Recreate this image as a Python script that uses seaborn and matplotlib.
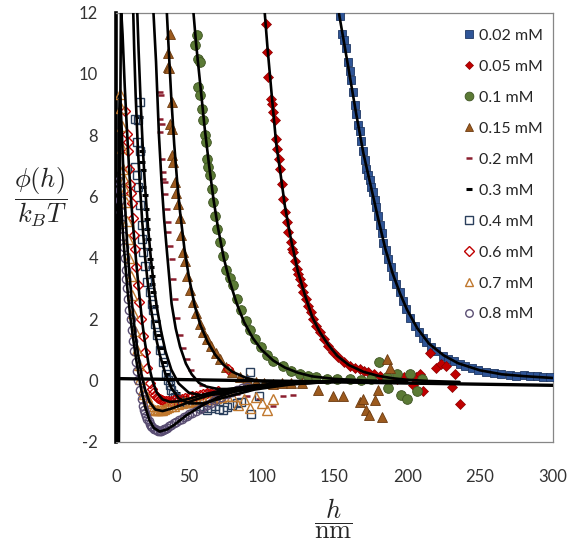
import numpy as np
import pandas as pd
import matplotlib
matplotlib.use("Agg")
import matplotlib.pyplot as plt
import seaborn as sns

# ---------------- data ----------------
h_002 = [153.7, 155.5, 156.5, 158.0, 159.5, 160.6, 161.5, 162.7, 164.0, 165.2, 166.3, 167.5, 168.6, 169.7, 170.9, 172.0,
         173.2, 174.3, 175.5, 176.6, 177.8, 178.9, 180.0, 181.2, 182.4, 183.5, 185.2, 186.9, 188.6, 190.3, 192.6, 195.0,
         197.2, 199.5, 202.3, 205.2, 208.0, 211.0, 213.2, 216.5, 220.0, 224.6, 228.0, 232.0, 236.0, 240.0, 244.5, 249.0,
         254.4, 259.5, 264.5, 270.4, 275.0, 280.0, 284.2, 289.0, 293.5, 297.9]
p_002 = [11.9, 11.3, 11.1, 10.85, 10.4, 10.1, 9.8, 9.4, 9.0, 8.7, 8.35, 8.15, 7.8, 7.5, 7.2, 6.9,
         6.7, 6.55, 6.3, 6.15, 5.9, 5.65, 5.35, 5.06, 4.8, 4.5, 4.25, 3.96, 3.7, 3.42, 3.15, 2.88,
         2.6, 2.33, 2.05, 1.79, 1.58, 1.38, 1.24, 1.08, 0.95, 0.81, 0.71, 0.62, 0.55, 0.48, 0.41, 0.34,
         0.28, 0.24, 0.2, 0.17, 0.16, 0.17, 0.16, 0.14, 0.12, 0.1]

h_005 = [103.0, 103.4, 104.5, 106.2, 107.5, 108.0, 109.1, 109.8, 110.7, 112.1, 113.0, 113.7, 114.8, 116.0, 117.2, 118.3,
         119.9, 121.0, 121.7, 123.0, 124.0, 125.2, 126.3, 127.5, 128.6, 130.3, 132.0, 133.7, 135.4, 137.7, 140.0, 142.8,
         145.7, 149.0, 152.6, 156.5, 160.6, 164.0, 167.5, 170.5, 173.2, 177.0, 181.2, 186.0, 192.7, 198.0, 204.0, 206.4,
         208.6, 210.7, 215.5, 220.1, 223.5, 227.0, 230.6, 232.7, 236.0]
p_005 = [11.64, 10.72, 9.9, 9.19, 9.03, 8.76, 8.49, 7.89, 7.56, 7.23, 6.9, 6.42, 5.92, 5.49, 5.16, 4.84,
         4.51, 4.3, 4.18, 3.9, 3.64, 3.48, 3.31, 3.1, 2.88, 2.66, 2.44, 2.22, 2.0, 1.78, 1.57, 1.35,
         1.13, 0.93, 0.75, 0.6, 0.48, 0.42, 0.37, 0.3, 0.26, 0.2, 0.15, 0.1, 0.04, 0.12, -0.16, 0.1,
         0.21, -0.36, 0.89, 0.42, 0.53, 0.48, -0.23, 0.21, -0.78]

h_01 = [54.2, 55.4, 56.5, 57.7, 56.5, 57.7, 58.8, 59.9, 61.1, 61.8, 62.2, 63.4, 64.5, 65.7, 66.8, 67.9, 69.5, 71.4,
        73.2, 75.5, 78.0, 80.3, 83.0, 86.0, 89.0, 92.0, 95.5, 99.5, 103.4, 108.0, 114.8, 120.0, 126.3, 132.0, 137.7,
        145.0, 152.0, 160.6, 168.0, 175.0, 181.0, 186.0, 187.0, 193.0, 196.0, 200.0, 202.0, 207.0, 210.0]
p_01 = [10.94, 11.26, 10.5, 10.4, 9.58, 9.3, 8.87, 8.49, 8.0, 7.78, 7.23, 6.95, 6.69, 6.25, 5.82, 5.38, 4.94, 4.51,
        4.07, 3.6, 3.35, 3.1, 2.65, 2.3, 1.95, 1.63, 1.35, 1.1, 0.82, 0.62, 0.48, 0.3, 0.21, 0.14, 0.1,
        0.05, 0.03, 0.04, 0.0, 0.05, 0.59, 0.1, -0.26, 0.2, -0.46, -0.62, 0.2, -0.36, 0.03]

h_015 = [37.0, 35.7, 35.9, 36.5, 37.1, 38.2, 38.2, 38.2, 39.3, 40.5, 41.5, 42.5, 43.9, 44.8, 46.0, 47.4, 49.0, 50.8,
         52.9, 55.0, 57.5, 60.0, 62.5, 65.5, 68.5, 71.4, 75.5, 80.0, 85.0, 90.0, 96.0, 102.0, 108.0, 114.0, 120.0,
         128.0, 138.6, 149.0, 156.0, 167.5, 169.5, 172.0, 174.0, 178.0, 180.0, 183.0, 186.0, 188.0]
p_015 = [11.3, 10.7, 10.23, 10.2, 8.38, 9.08, 8.21, 7.34, 7.12, 6.47, 6.1, 5.75, 5.3, 4.75, 4.2, 3.9, 3.4, 2.95,
         2.55, 2.2, 1.85, 1.58, 1.34, 1.12, 0.9, 0.69, 0.45, 0.26, 0.12, 0.05, -0.05, -0.1, -0.12, -0.1, -0.08,
         -0.1, -0.3, -0.5, -0.5, -0.7, -0.62, -0.95, -1.14, -0.65, -0.3, -1.2, 0.69, 0.42]

h_02 = [30.2, 31.0, 30.2, 31.3, 30.2, 31.3, 32.4, 32.4, 33.6, 33.6, 34.8, 35.9, 35.9, 37.1, 38.2, 39.3, 40.5,
        42.0, 44.0, 46.0, 48.7, 51.5, 55.6, 59.0, 63.0, 67.0, 72.0, 77.0, 83.0, 90.0, 98.0, 107.8, 115.0, 121.5]
p_02 = [9.41, 9.3, 8.54, 8.38, 8.1, 7.23, 6.8, 6.58, 6.47, 6.09, 5.6, 5.16, 4.84, 4.4, 3.96, 3.31, 2.66,
        2.05, 1.47, 1.05, 0.69, 0.35, 0.03, -0.15, -0.3, -0.35, -0.4, -0.38, -0.45, -0.5, -0.6, -0.82, -0.5, -0.46]

h_03 = [16.5, 17.6, 17.6, 18.5, 18.8, 19.9, 20.5, 21.1, 21.6, 22.2, 22.8, 23.3, 23.9, 24.5, 25.0, 25.6, 26.8, 28.0,
        29.5, 31.0, 33.0, 35.0, 38.0, 42.0, 47.0, 53.0, 60.0, 68.0]
p_03 = [8.6, 7.5, 7.12, 6.86, 6.3, 6.05, 5.6, 5.27, 4.95, 4.62, 4.3, 3.96, 3.7, 3.42, 3.15, 2.88, 2.44, 1.95,
        1.47, 1.05, 0.59, 0.2, -0.15, -0.4, -0.55, -0.6, -0.55, -0.5]

h_04 = [16.5, 13.0, 15.3, 14.2, 16.5, 13.0, 14.3, 15.3, 16.5, 17.6, 17.7, 18.7, 19.9, 21.1, 23.3, 24.5, 25.6, 27.0,
        28.0, 30.0, 32.3, 34.5, 37.0, 39.5, 42.0, 45.0, 50.0, 55.0, 58.0, 62.5, 68.0, 73.4, 80.0, 86.0, 92.0, 93.0, 98.0,
        35.5, 38.0, 40.5, 43.5, 47.5, 52.5, 60.0, 65.0, 70.5, 76.5, 83.0]
p_04 = [9.08, 8.54, 8.5, 7.78, 7.5, 6.96, 6.7, 6.31, 5.71, 5.06, 4.6, 4.18, 3.75, 3.2, 2.88, 2.5, 2.3, 1.85,
        1.47, 1.0, 0.59, 0.2, -0.16, -0.45, -0.62, -0.7, -0.75, -0.75, -0.85, -0.95, -0.85, -0.95, -0.8, -0.7, 0.26, -1.1, -0.5,
        0.0, -0.3, -0.55, -0.66, -0.72, -0.75, -0.9, -0.9, -0.92, -0.88, -0.75]

h_06 = [6.2, 7.3, 8.5, 8.5, 9.0, 9.6, 10.3, 10.8, 11.9, 12.5, 13.0, 14.0, 15.0, 16.0, 17.2, 18.5, 20.0, 21.5,
        23.3, 25.5, 28.0, 30.0, 33.0, 36.0, 40.0, 45.0, 50.0, 55.0, 60.0, 65.0, 70.0, 77.0,
        24.5, 26.5, 29.0, 31.5, 34.5, 37.5, 42.5, 47.5, 52.5, 57.5, 62.5, 67.5]
p_06 = [8.8, 8.05, 7.78, 7.5, 6.9, 6.4, 6.1, 5.8, 5.3, 4.75, 4.3, 3.7, 3.1, 2.55, 2.0, 1.45, 0.92, 0.4,
        -0.1, -0.4, -0.55, -0.62, -0.66, -0.68, -0.65, -0.6, -0.55, -0.5, -0.45, -0.4, -0.35, 0.36,
        -0.28, -0.48, -0.58, -0.64, -0.67, -0.67, -0.63, -0.58, -0.52, -0.47, -0.42, -0.37]

h_07 = [2.7, 3.2, 3.8, 4.4, 5.0, 5.6, 6.2, 6.8, 7.5, 8.4, 9.2, 10.0, 11.0, 12.0, 13.2, 14.3, 15.5, 16.5, 18.5, 21.0,
        23.0, 25.6, 28.0, 30.0, 33.0, 36.0, 40.0, 45.0, 50.0, 55.0, 60.0, 66.0, 72.0, 80.0, 84.0, 88.0, 92.0, 96.0,
        100.0, 104.0, 108.0,
        19.5, 22.0, 24.3, 26.8, 29.0, 31.5, 34.5, 38.0, 42.5, 47.5, 52.5, 57.5, 63.0, 69.0, 76.0]
p_07 = [9.36, 8.9, 8.3, 7.6, 6.9, 6.58, 6.2, 5.82, 5.2, 4.6, 4.0, 3.4, 2.8, 2.2, 1.6, 1.0, 0.5, 0.05, -0.3, -0.55,
        -0.75, -0.92, -0.98, -0.97, -0.93, -0.88, -0.82, -0.75, -0.7, -0.65, -0.62, -0.6, -0.55, -0.5, -0.8, -0.6, -0.9, -0.55,
        -0.75, -0.95, -0.6,
        -0.43, -0.66, -0.85, -0.95, -0.98, -0.96, -0.9, -0.85, -0.78, -0.72, -0.68, -0.63, -0.61, -0.57, -0.52]

h_08 = [2.0, 2.5, 3.0, 3.6, 4.2, 4.8, 5.4, 6.0, 6.6, 7.2, 7.8, 8.5, 9.2, 10.0, 10.8, 11.6, 12.5, 13.4, 14.3, 15.3,
        16.5, 17.6, 18.8, 20.0, 21.5, 23.3, 25.0, 27.0, 29.0, 31.0, 33.0, 35.0, 38.0, 41.5, 45.0, 48.5, 52.0, 57.7,
        62.5, 68.0, 76.0, 83.0, 90.0,
        19.4, 20.7, 22.4, 24.1, 26.0, 28.0, 30.0, 32.0, 34.0, 36.5, 39.7, 43.2, 46.7, 50.2, 54.8, 60.0, 65.0, 72.0,
        79.5, 86.5]
p_08 = [6.5, 6.2, 5.9, 5.5, 5.1, 4.7, 4.35, 4.0, 3.6, 3.3, 3.0, 2.65, 2.3, 2.0, 1.65, 1.3, 0.95, 0.6, 0.3, 0.0,
        -0.3, -0.6, -0.85, -1.05, -1.25, -1.42, -1.53, -1.6, -1.65, -1.64, -1.6, -1.55, -1.45, -1.35, -1.25, -1.15, -1.05, -0.94,
        -0.8, -0.65, -0.45, -0.3, -0.2,
        -0.95, -1.15, -1.34, -1.48, -1.57, -1.63, -1.65, -1.62, -1.58, -1.5, -1.4, -1.3, -1.2, -1.1, -1.0, -0.87, -0.73, -0.55,
        -0.38, -0.25]

# fitted model curves (black lines)
fh_002 = [152.0, 156.0, 160.0, 165.0, 170.0, 175.0, 180.0, 185.0, 190.0, 195.0, 200.0, 207.0, 215.0, 225.0, 235.0,
          250.0, 265.0, 280.0, 300.0]
fp_002 = [12.3, 11.2, 10.1, 8.7, 7.4, 6.35, 5.3, 4.3, 3.5, 2.85, 2.3, 1.7, 1.2, 0.82, 0.56, 0.33, 0.2, 0.14, 0.08]
fh_005 = [101.5, 104.0, 107.0, 110.0, 113.0, 116.0, 120.0, 125.0, 130.0, 135.0, 140.0, 146.0, 152.0, 160.0, 170.0,
          180.0, 190.0, 200.0, 215.0, 236.0]
fp_005 = [12.4, 10.9, 9.3, 7.75, 6.75, 5.7, 4.65, 3.55, 2.75, 2.05, 1.58, 1.15, 0.8, 0.5, 0.28,
          0.15, 0.07, 0.02, -0.02, -0.05]
fh_01 = [52.5, 55.0, 58.0, 61.0, 64.0, 67.0, 70.0, 74.0, 78.0, 83.0, 88.0, 94.0, 100.0, 108.0, 116.0, 125.0, 135.0,
         150.0, 170.0, 200.0]
fp_01 = [12.4, 11.0, 9.6, 8.2, 7.0, 5.9, 5.0, 4.0, 3.25, 2.5, 1.9, 1.38, 1.0, 0.65, 0.42, 0.25, 0.13,
         0.05, 0.0, -0.03]
fh_015 = [34.5, 36.0, 38.0, 40.0, 42.0, 44.0, 47.0, 50.0, 54.0, 58.0, 63.0, 68.0, 74.0, 80.0, 90.0, 100.0, 115.0, 135.0, 160.0]
fp_015 = [12.4, 11.0, 9.2, 7.7, 6.5, 5.5, 4.3, 3.4, 2.45, 1.8, 1.25, 0.85, 0.5, 0.28, 0.07, -0.03, -0.06, -0.05, -0.02]
fh_02 = [25.3, 27.5, 29.5, 31.3, 33.0, 35.0, 38.2, 41.0, 44.0, 48.0, 52.0, 57.0, 62.0, 70.0, 80.0, 95.0, 115.0, 140.0, 165.0]
fp_02 = [12.4, 10.4, 8.0, 6.47, 5.3, 4.2, 2.5, 1.7, 1.1, 0.55, 0.2, -0.08, -0.2, -0.28, -0.28, -0.22, -0.13, -0.06, -0.02]
fh_03 = [14.4, 15.5, 17.0, 18.5, 20.0, 22.0, 24.0, 26.0, 28.0, 31.0, 34.0, 38.0, 43.0, 50.0, 60.0, 75.0, 95.0, 120.0, 150.0]
fp_03 = [12.3, 10.8, 9.0, 7.5, 6.3, 5.0, 3.95, 3.1, 2.4, 1.6, 0.95, 0.35, -0.1, -0.4, -0.5, -0.42, -0.26, -0.12, -0.04]
fh_04 = [11.7, 12.5, 13.5, 15.0, 16.5, 18.0, 20.0, 22.0, 24.0, 27.0, 30.0, 34.0, 38.0, 43.0, 50.0, 60.0, 75.0, 95.0, 120.0, 150.0]
fp_04 = [12.3, 10.8, 9.3, 7.6, 6.3, 5.2, 4.0, 3.1, 2.35, 1.5, 0.85, 0.2, -0.25, -0.58, -0.75, -0.75, -0.55, -0.3, -0.13, -0.04]
fh_06 = [2.0, 2.6, 3.4, 4.5, 6.0, 7.5, 9.0, 10.5, 12.0, 14.0, 16.0, 18.0, 20.0, 22.5, 25.0, 28.0, 32.0, 37.0, 43.0,
         50.0, 60.0, 75.0, 95.0, 120.0, 150.0]
fp_06 = [-2.0, 6.0, 12.2, 11.3, 9.6, 8.2, 6.9, 5.8, 4.9, 3.8, 2.8, 1.9, 1.2, 0.5, 0.0, -0.4, -0.62, -0.7, -0.68,
         -0.6, -0.46, -0.3, -0.16, -0.07, -0.02]
fh_07 = [1.2, 1.6, 2.0, 2.5, 3.0, 4.0, 5.0, 6.0, 7.5, 9.0, 11.0, 13.0, 15.0, 17.5, 20.0, 23.0, 27.0, 32.0, 38.0, 45.0,
         55.0, 70.0, 90.0, 120.0, 150.0]
fp_07 = [-2.0, 4.0, 8.0, 9.3, 9.2, 8.1, 6.9, 5.9, 4.6, 3.6, 2.5, 1.6, 0.9, 0.2, -0.3, -0.7, -0.95, -1.0, -0.92, -0.8,
         -0.62, -0.4, -0.22, -0.08, -0.02]
fh_08 = [1.0, 1.3, 1.6, 2.0, 2.6, 3.5, 4.5, 6.0, 8.0, 10.0, 12.0, 14.0, 16.0, 18.0, 20.0, 23.0, 26.0, 30.0, 35.0, 40.0,
         48.0, 58.0, 70.0, 85.0, 100.0, 120.0, 150.0]
fp_08 = [-2.0, 2.5, 5.5, 6.8, 6.6, 5.8, 5.0, 4.0, 2.9, 2.0, 1.3, 0.65, 0.05, -0.45, -0.85, -1.3, -1.55, -1.67, -1.6, -1.45,
         -1.15, -0.85, -0.55, -0.3, -0.17, -0.07, -0.02]
fh_base = [0.0, 300.0]
fp_base = [0.06, -0.16]

x_ticks = [0, 50, 100, 150, 200, 250, 300]
y_ticks = [-2, 0, 2, 4, 6, 8, 10, 12]

# ---------------- style ----------------
sns.set_theme(style="white")
plt.rcParams["font.family"] = ["Lato", "DejaVu Sans"]
plt.rcParams["mathtext.fontset"] = "cm"

fig = plt.figure(figsize=(5.68, 5.46), dpi=100)
ax = fig.add_axes([116 / 568, 1 - 441.7 / 546, 436.7 / 568, 429 / 546])

series = [
    ("0.02 mM", h_002, p_002, dict(marker="s", markersize=6.0, markerfacecolor="#2F5597", markeredgecolor="#1F3864", markeredgewidth=0.6)),
    ("0.05 mM", h_005, p_005, dict(marker="D", markersize=4.6, markerfacecolor="#C00000", markeredgecolor="#8B0000", markeredgewidth=0.5)),
    ("0.1 mM", h_01, p_01, dict(marker="o", markersize=7.0, markerfacecolor="#5B7A35", markeredgecolor="#3E5322", markeredgewidth=0.6)),
    ("0.15 mM", h_015, p_015, dict(marker="^", markersize=6.5, markerfacecolor="#9C5A1E", markeredgecolor="#6B3A10", markeredgewidth=0.6)),
    ("0.2 mM", h_02, p_02, dict(marker="_", markersize=4.2, markeredgewidth=1.8, markeredgecolor="#8B1E2E", color="#8B1E2E")),
    ("0.3 mM", h_03, p_03, dict(marker="_", markersize=5.0, markeredgewidth=2.2, markeredgecolor="#000000", color="#000000")),
    ("0.4 mM", h_04, p_04, dict(marker="s", markersize=6.0, markerfacecolor="none", markeredgecolor="#2A3F5C", markeredgewidth=1.0)),
    ("0.6 mM", h_06, p_06, dict(marker="D", markersize=5.5, markerfacecolor="none", markeredgecolor="#C00000", markeredgewidth=1.0)),
    ("0.7 mM", h_07, p_07, dict(marker="^", markersize=6.5, markerfacecolor="none", markeredgecolor="#C0782E", markeredgewidth=1.0)),
    ("0.8 mM", h_08, p_08, dict(marker="o", markersize=6.0, markerfacecolor="none", markeredgecolor="#5A4E73", markeredgewidth=1.0)),
]

for label, hx, py, kw in series:
    df = pd.DataFrame({"h": hx, "phi": py})
    sns.lineplot(data=df, x="h", y="phi", ax=ax, estimator=None, sort=False,
                 linestyle="", label=label, zorder=3, **kw)

fits = [(fh_002, fp_002), (fh_005, fp_005), (fh_01, fp_01), (fh_015, fp_015), (fh_02, fp_02),
        (fh_03, fp_03), (fh_04, fp_04), (fh_06, fp_06), (fh_07, fp_07), (fh_08, fp_08)]
for fx, fy in fits:
    dff = pd.DataFrame({"h": fx, "phi": fy})
    sns.lineplot(data=dff, x="h", y="phi", ax=ax, estimator=None, sort=False,
                 color="black", linewidth=1.9, zorder=4, legend=False)
sns.lineplot(data=pd.DataFrame({"h": fh_base, "phi": fp_base}), x="h", y="phi", ax=ax,
             estimator=None, sort=False, color="black", linewidth=2.4, zorder=4, legend=False)

ax.set_xlim(0, 300)
ax.set_ylim(-2, 12)
ax.set_xticks(x_ticks)
ax.set_yticks(y_ticks)
ax.set_xticklabels([str(t) for t in x_ticks])
ax.set_yticklabels([str(t) for t in y_ticks])
ax.tick_params(axis="both", direction="in", length=5, width=0.8, color="#868686",
               labelsize=12, labelcolor="#333333")
ax.tick_params(axis="x", pad=20)
ax.tick_params(axis="y", pad=13)

for side in ["top", "right", "bottom"]:
    ax.spines[side].set_color("#868686")
    ax.spines[side].set_linewidth(0.9)
ax.spines["left"].set_color("black")
ax.spines["left"].set_linewidth(2.6)

ax.set_ylabel(r"$\dfrac{\phi(h)}{k_BT}$", fontsize=19, rotation=0, ha="center", va="center")
ax.yaxis.set_label_coords(-0.172, 0.57)
ax.set_xlabel(r"$\dfrac{h}{\mathrm{nm}}$", fontsize=19, ha="center", va="center")
ax.xaxis.set_label_coords(0.497, -0.18)

handles, labels = ax.get_legend_handles_labels()
leg = ax.legend(handles, labels, loc="upper right", bbox_to_anchor=(1.0, 0.985), frameon=False,
                fontsize=11.5, labelspacing=1.05, handlelength=0.6, handletextpad=0.35,
                borderaxespad=0.2, markerscale=0.9)

fig.savefig("out.png", dpi=100)
